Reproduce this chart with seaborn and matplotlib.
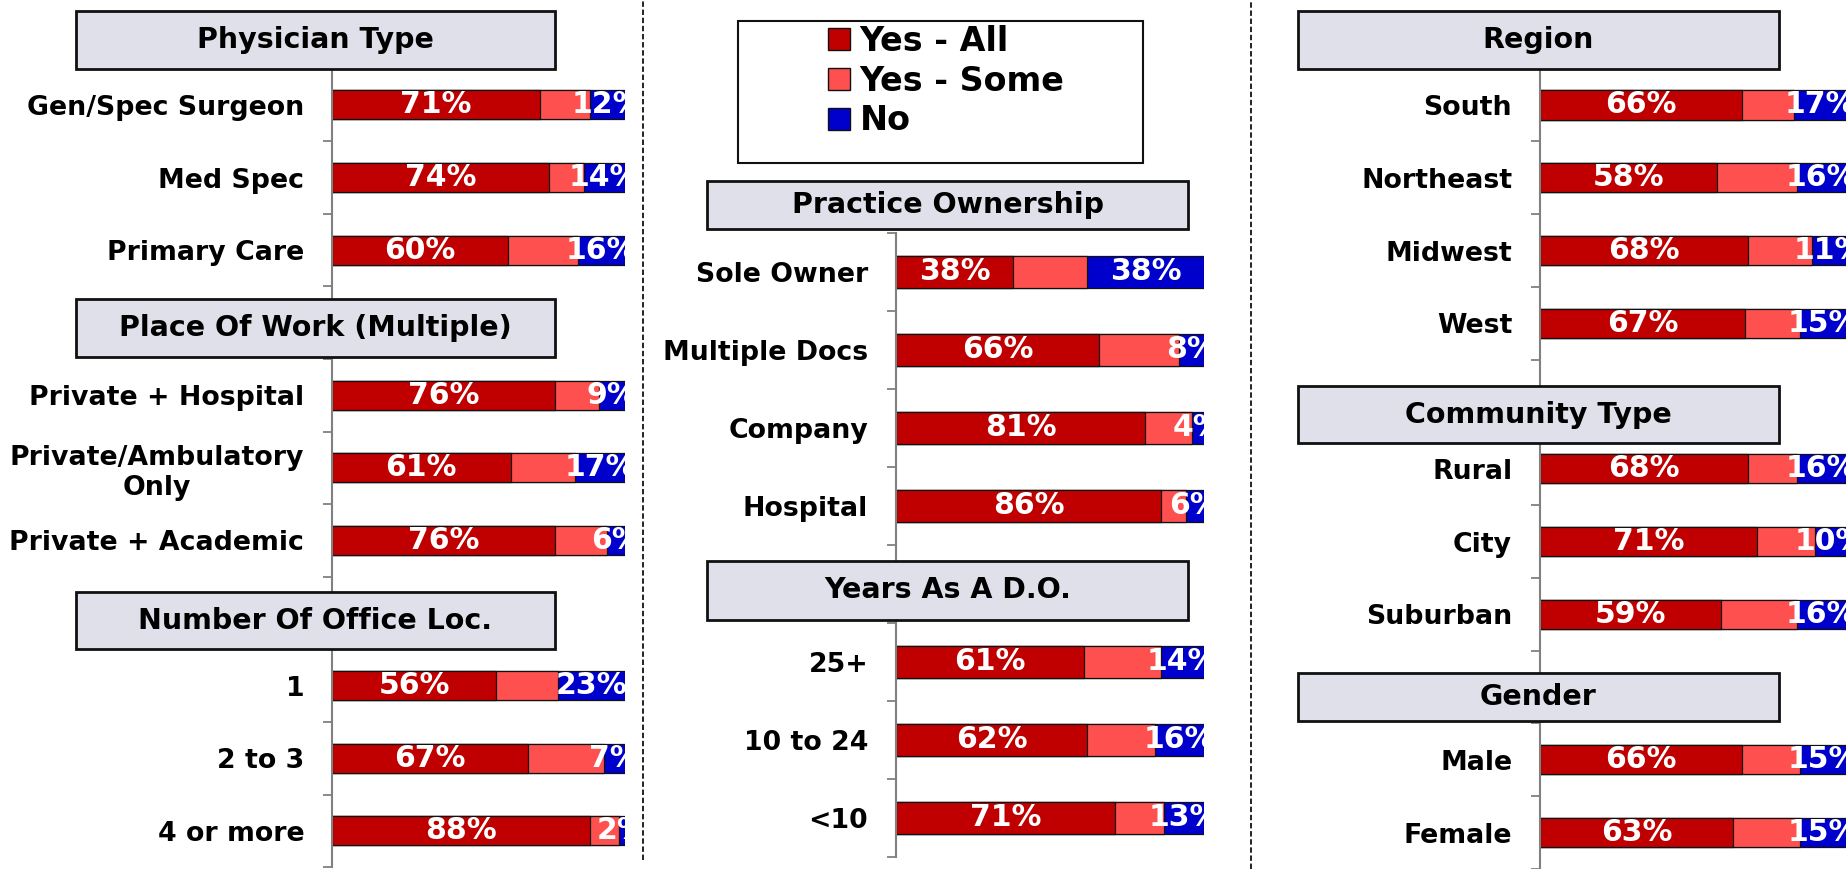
import numpy as np
import pandas as pd
import seaborn as sns
import matplotlib.pyplot as plt
from matplotlib.patches import Patch, Rectangle
from matplotlib.lines import Line2D
from matplotlib.transforms import blended_transform_factory

# answer segments and colours
segments = ['Yes - All', 'Yes - Some', 'No']
seg_colors = ['#C00000', '#FF5050', '#0000CC']

# left column
left_headers = ['Physician Type', 'Place Of Work (Multiple)', 'Number Of Office Loc.']
left_sizes = [3, 3, 3]
left_labels = ['Gen/Spec Surgeon', 'Med Spec', 'Primary Care',
               'Private + Hospital', 'Private/Ambulatory\nOnly', 'Private + Academic',
               '1', '2 to 3', '4 or more']
left_all = [71, 74, 60, 76, 61, 76, 56, 67, 88]
left_some = [17, 12, 24, 15, 22, 18, 21, 26, 10]
left_no = [12, 14, 16, 9, 17, 6, 23, 7, 2]

# middle column
mid_headers = ['Practice Ownership', 'Years As A D.O.']
mid_sizes = [4, 3]
mid_labels = ['Sole Owner', 'Multiple Docs', 'Company', 'Hospital',
              '25+', '10 to 24', '<10']
mid_all = [38, 66, 81, 86, 61, 62, 71]
mid_some = [24, 26, 15, 8, 25, 22, 16]
mid_no = [38, 8, 4, 6, 14, 16, 13]

# right column
right_headers = ['Region', 'Community Type', 'Gender']
right_sizes = [4, 3, 2]
right_labels = ['South', 'Northeast', 'Midwest', 'West',
                'Rural', 'City', 'Suburban', 'Male', 'Female']
right_all = [66, 58, 68, 67, 68, 71, 59, 66, 63]
right_some = [17, 26, 21, 18, 16, 19, 25, 19, 22]
right_no = [17, 16, 11, 15, 16, 10, 16, 15, 15]

W, H = 1849, 869
sns.set_style('white')
plt.rcParams['font.family'] = ['DejaVu Sans']
plt.rcParams['text.color'] = 'black'
plt.rcParams['ytick.labelcolor'] = 'black'

fig = plt.figure(figsize=(W / 100, H / 100), dpi=100)
palette = dict(zip(segments, seg_colors))


def draw_column(headers, sizes, labels, yes_all, yes_some, no,
                x0, x1, slot_top, slot, boxes, box_x):
    # one empty slot in front of each section, the header box sits there
    order, ticklabels, header_pos = [], [], []
    i = 0
    for h, n in zip(headers, sizes):
        header_pos.append(len(order))
        order.append(h)
        ticklabels.append('')
        order += labels[i:i + n]
        ticklabels += labels[i:i + n]
        i += n

    df = pd.DataFrame({'label': labels, 'Yes - All': yes_all,
                       'Yes - Some': yes_some, 'No': no})
    # cumulative ends, drawn widest first so the bars read as a stack
    cum = df[segments].cumsum(axis=1)
    cum['label'] = df['label']
    long = cum.melt(id_vars='label', var_name='segment', value_name='end')

    ax = fig.add_axes([x0 / W, 0, (x1 - x0) / W, 1])
    sns.barplot(data=long, x='end', y='label', hue='segment', order=order,
                hue_order=segments[::-1], palette=palette, dodge=False,
                width=0.4, saturation=1, errorbar=None, legend=False,
                edgecolor='#111111', linewidth=0.9, ax=ax)

    # value labels: Yes - All and No only
    for k, lab in enumerate(labels):
        y = order.index(lab)
        a, s, n = yes_all[k], yes_some[k], no[k]
        for xc, v in [(a / 2, a), (a + s + n / 2, n)]:
            ax.text(xc, y, f'{v}%', ha='center', va='center', color='white',
                    fontsize=21.5, fontweight='bold', clip_on=True, zorder=4)

    ax.set_xlim(0, 100)
    ax.set_ylim((H - slot_top) / slot - 0.5, -slot_top / slot - 0.5)
    ax.set_xticks([])
    ax.set_xlabel('')
    ax.set_ylabel('')
    ax.set_yticks(range(len(order)))
    ax.set_yticklabels(ticklabels, fontsize=19.3, fontweight='bold', color='black')
    for t in ax.get_yticklabels():
        t.set_multialignment('center')
    ax.set_yticks(np.arange(len(order)) + 0.5, minor=True)
    ax.tick_params(axis='y', which='both', left=True)
    ax.tick_params(axis='y', which='major', length=0, pad=20)
    ax.tick_params(axis='y', which='minor', length=6.5, width=1.3,
                   color='#808080', direction='out')
    for side in ['top', 'right', 'bottom']:
        ax.spines[side].set_visible(False)
    ax.spines['left'].set_color('#808080')
    ax.spines['left'].set_linewidth(1.5)
    ax.spines['left'].set_bounds(0.5, len(order) - 0.5)

    # section header boxes
    tr = blended_transform_factory(fig.transFigure, ax.transData)
    for title, pos, (off, hgt) in zip(headers, header_pos, boxes):
        top = pos - 0.5 + off
        ax.add_artist(Rectangle((box_x[0] / W, top), (box_x[1] - box_x[0]) / W, hgt,
                                transform=tr, facecolor='#E0E0EA', edgecolor='#111111',
                                lw=2, clip_on=False, zorder=5))
        ax.text((box_x[0] + box_x[1]) / 2 / W, top + hgt / 2, title, transform=tr,
                ha='center', va='center', fontsize=20.5, fontweight='bold',
                color='black', clip_on=False, zorder=6)
    return ax


draw_column(left_headers, left_sizes, left_labels, left_all, left_some, left_no,
            332, 625, -4, 72.6, [(0.21, 0.80), (0.17, 0.80), (0.21, 0.79)], (76, 555))
draw_column(mid_headers, mid_sizes, mid_labels, mid_all, mid_some, mid_no,
            896, 1204, 155, 78, [(0.33, 0.62), (0.20, 0.76)], (707, 1188))
draw_column(right_headers, right_sizes, right_labels, right_all, right_some, right_no,
            1540, 1846, -4.2, 73.2, [(0.21, 0.79), (0.36, 0.79), (0.31, 0.66)], (1298, 1779))

# legend in the middle column
handles = [Patch(facecolor=c, edgecolor='#111111', lw=1) for c in seg_colors]
fig.legend(handles, segments, loc='upper left', bbox_to_anchor=(828 / W, 1 - 25 / H),
           frameon=False, prop={'weight': 'bold', 'size': 24},
           handlelength=0.65, handleheight=0.65, handletextpad=0.3,
           labelspacing=0.2, borderpad=0, borderaxespad=0)
fig.add_artist(Rectangle((738 / W, 1 - 163 / H), (1143 - 738) / W, (163 - 21) / H,
                         transform=fig.transFigure, fill=False,
                         edgecolor='#111111', lw=1.5))

# dashed column separators
fig.add_artist(Line2D([643 / W] * 2, [1 - 860 / H, 1], transform=fig.transFigure,
                      color='#111111', lw=1.3, ls=(0, (3, 1.5))))
fig.add_artist(Line2D([1251 / W] * 2, [0, 1], transform=fig.transFigure,
                      color='#111111', lw=1.3, ls=(0, (3, 1.5))))

fig.savefig('out.png', dpi=100)
